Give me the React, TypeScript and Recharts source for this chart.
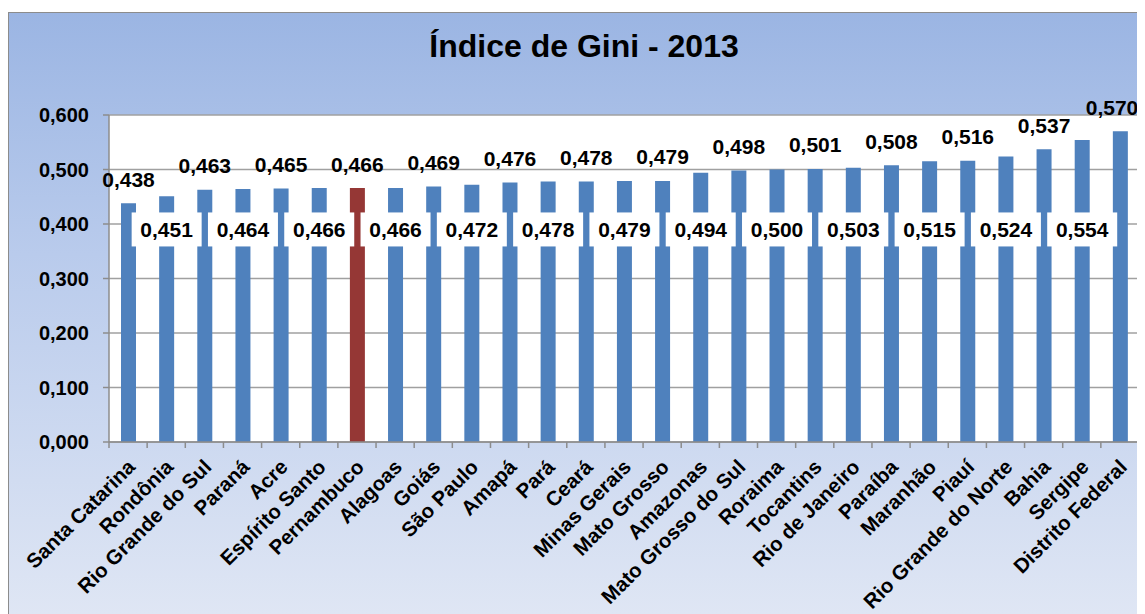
import { BarChart, Bar, XAxis, YAxis, CartesianGrid, Cell, LabelList } from 'recharts';

// Gini index by state, 2013
const states = [
  'Santa Catarina', 'Rondônia', 'Rio Grande do Sul', 'Paraná', 'Acre', 'Espírito Santo',
  'Pernambuco', 'Alagoas', 'Goiás', 'São Paulo', 'Amapá', 'Pará', 'Ceará', 'Minas Gerais',
  'Mato Grosso', 'Amazonas', 'Mato Grosso do Sul', 'Roraima', 'Tocantins', 'Rio de Janeiro',
  'Paraíba', 'Maranhão', 'Piauí', 'Rio Grande do Norte', 'Bahia', 'Sergipe', 'Distrito Federal',
];
const giniValues = [
  0.438, 0.451, 0.463, 0.464, 0.465, 0.466,
  0.466, 0.466, 0.469, 0.472, 0.476, 0.478, 0.478, 0.479,
  0.479, 0.494, 0.498, 0.5, 0.501, 0.503,
  0.508, 0.515, 0.516, 0.524, 0.537, 0.554, 0.57,
];
const yTicks = [0, 0.1, 0.2, 0.3, 0.4, 0.5, 0.6];
const highlighted = 'Pernambuco';
const boxLevel = 0.39; // where the boxed labels sit (in axis units)

const chartData = states.map((state, i) => ({ state, gini: giniValues[i] }));

const fmt = (v: number) => v.toFixed(3).replace('.', ',');

const FONT = '"Liberation Sans", Arial, sans-serif';
const CHART_W = 1137;

const CategoryTick = (props: any) => {
  const { x, y, payload, index, visibleTicksCount } = props;
  const half = payload.offset ?? 19;
  const isLast = index === (visibleTicksCount ?? states.length) - 1;
  return (
    <g>
      <line x1={x - half} x2={x - half} y1={y} y2={y + 6} stroke="#8c8c8c" strokeWidth={1.5} />
      {isLast && <line x1={x + half} x2={x + half} y1={y} y2={y + 6} stroke="#8c8c8c" strokeWidth={1.5} />}
      <text
        transform={`translate(${x + 3},${y + 21}) rotate(-45)`}
        textAnchor="end"
        dominantBaseline="central"
        fontSize={20.5}
        fontWeight="bold"
        fontFamily={FONT}
        fill="#000"
      >
        {payload.value}
      </text>
    </g>
  );
};

const ValueLabel = (props: any) => {
  const { x, y, width, height, value, index } = props;
  const cx = x + width / 2;
  if (index % 2 === 0) {
    // keep the last label inside the frame
    const tx = Math.min(cx, CHART_W - 33);
    return (
      <text x={tx} y={y - 24} textAnchor="middle" dominantBaseline="central"
        fontSize={21} fontWeight="bold" fontFamily={FONT} fill="#000">
        {fmt(value)}
      </text>
    );
  }
  // boxed label drawn lower down, over the bar
  const bottom = y + height;
  const cy = bottom - (height / value) * boxLevel;
  return (
    <g>
      <rect x={cx - 35} y={cy - 17} width={70} height={34} fill="#fff" />
      <text x={cx} y={cy} textAnchor="middle" dominantBaseline="central"
        fontSize={21} fontWeight="bold" fontFamily={FONT} fill="#000">
        {fmt(value)}
      </text>
    </g>
  );
};

export default function App() {
  return (
    <div
      style={{
        position: 'relative',
        marginTop: 4,
        width: CHART_W,
        height: 602,
        borderTop: '1.5px solid #8c8c8c',
        borderLeft: '1.5px solid #8c8c8c',
        background: 'linear-gradient(to bottom, #9bb5e3 0%, #b9cbec 40%, #dfe6f4 100%)',
        fontFamily: FONT,
        boxSizing: 'border-box',
      }}
    >
      <div
        style={{
          position: 'absolute',
          left: 0,
          width: '100%',
          top: 15,
          textAlign: 'center',
          fontSize: 32,
          fontWeight: 'bold',
          color: '#000',
          paddingLeft: 14,
          boxSizing: 'border-box',
        }}
      >
        Índice de Gini - 2013
      </div>
      <BarChart
        width={CHART_W}
        height={602}
        data={chartData}
        margin={{ top: 103, right: 6, left: 0, bottom: 0 }}
        barCategoryGap={0}
        style={{ position: 'absolute', left: -1.5, top: -1.5 }}
      >
        <CartesianGrid vertical={false} stroke="#a0a0a0" strokeWidth={1.5} fill="#ffffff" />
        <XAxis
          dataKey="state"
          interval={0}
          height={172}
          tickSize={0}
          tickMargin={0}
          tickLine={false}
          axisLine={{ stroke: '#8c8c8c', strokeWidth: 1.5 }}
          tick={<CategoryTick />}
        />
        <YAxis
          width={101}
          domain={[0, 0.6]}
          ticks={yTicks}
          tickFormatter={fmt}
          tickSize={6}
          tickMargin={14}
          axisLine={{ stroke: '#8c8c8c', strokeWidth: 1.5 }}
          tickLine={{ stroke: '#8c8c8c', strokeWidth: 1.5 }}
          tick={{ fontSize: 20, fontWeight: 'bold', fill: '#000', fontFamily: FONT }}
        />
        <Bar dataKey="gini" barSize={15} isAnimationActive={false}>
          {chartData.map((d) => (
            <Cell key={d.state} fill={d.state === highlighted ? '#953735' : '#4f81bd'} />
          ))}
          <LabelList dataKey="gini" content={<ValueLabel />} />
        </Bar>
      </BarChart>
    </div>
  );
}
